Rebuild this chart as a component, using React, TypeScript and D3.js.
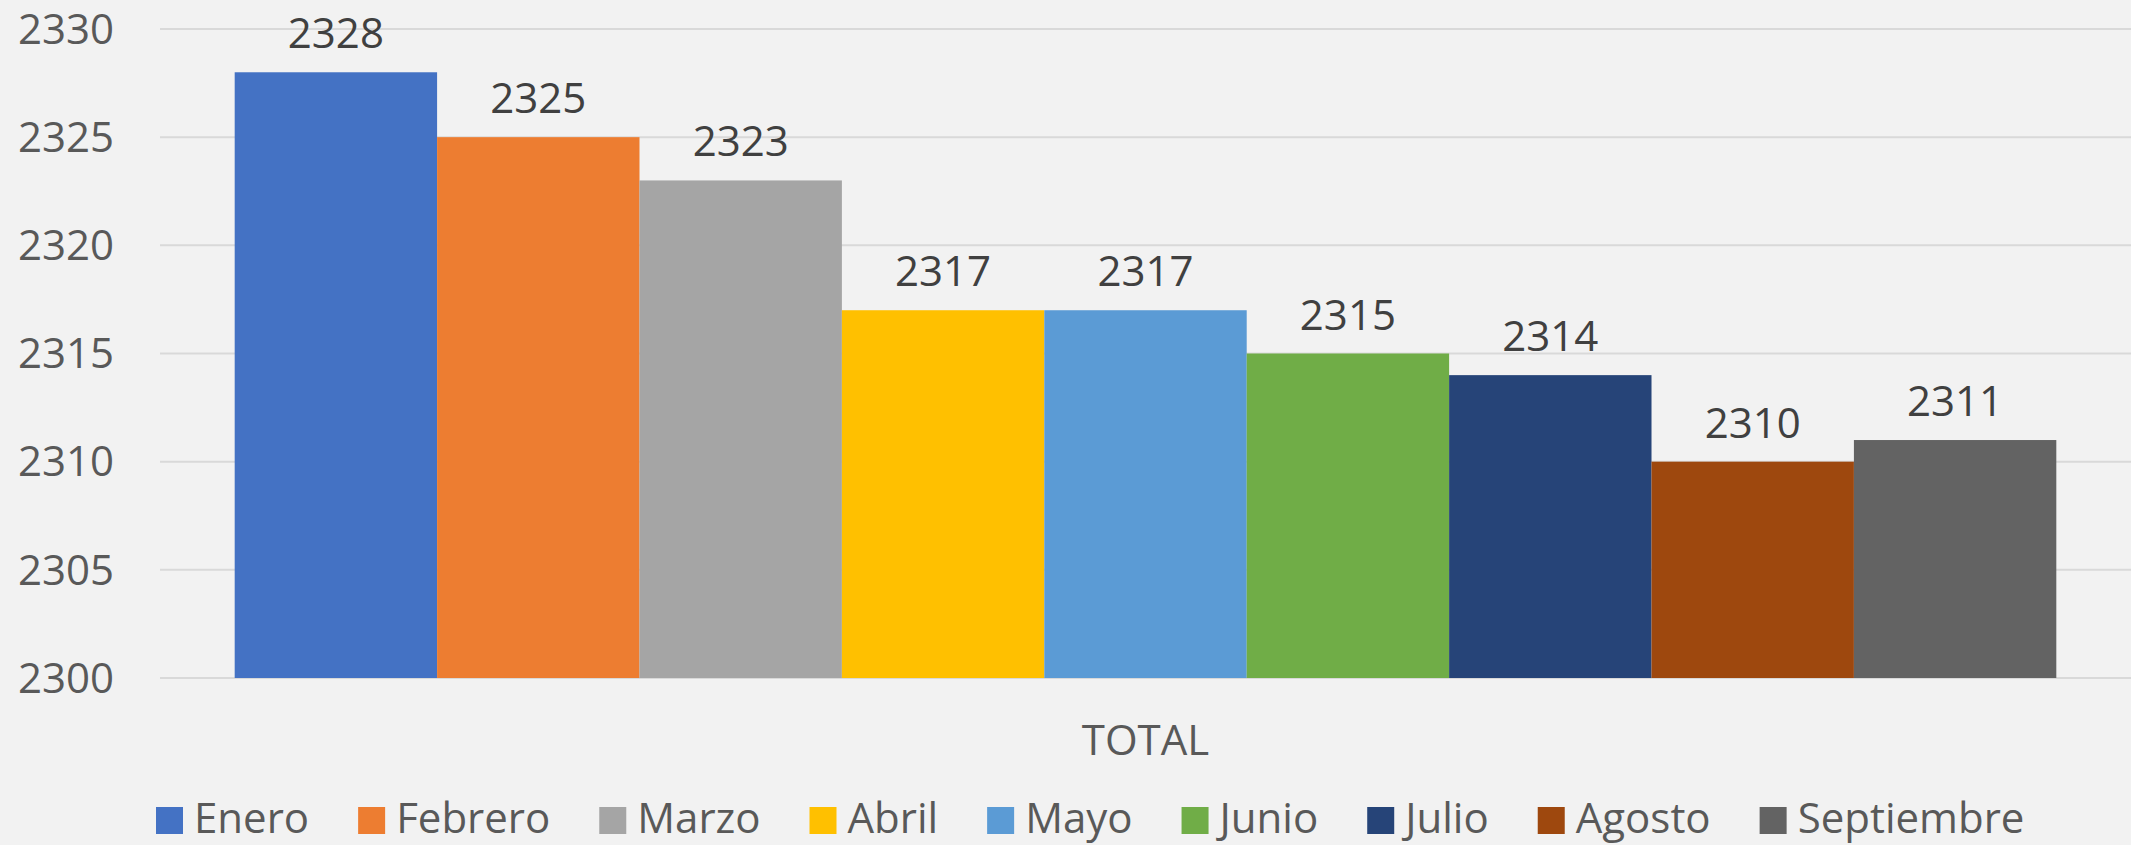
import { useEffect, useRef } from "react";
import * as d3 from "d3";

const categories = ["TOTAL"];
const months = ["Enero", "Febrero", "Marzo", "Abril", "Mayo", "Junio", "Julio", "Agosto", "Septiembre"];
const totals = [2328, 2325, 2323, 2317, 2317, 2315, 2314, 2310, 2311];
const yTicks = [2300, 2305, 2310, 2315, 2320, 2325, 2330];
const colors = ["#4472C4", "#ED7D31", "#A5A5A5", "#FFC000", "#5B9BD5", "#70AD47", "#264478", "#9E480E", "#636363"];

export default function App() {
  const ref = useRef<SVGSVGElement>(null);

  useEffect(() => {
    const width = 2131;
    const height = 845;
    const margin = { top: 29, right: 0, bottom: 167, left: 160 };
    const font = "'Open Sans', 'DejaVu Sans', sans-serif";

    const svg = d3.select(ref.current);
    svg.selectAll("*").remove();
    svg.attr("width", width).attr("height", height);

    svg.append("rect").attr("width", width).attr("height", height).attr("fill", "#F2F2F2");

    const y = d3.scaleLinear().domain([2300, 2330]).range([height - margin.bottom, margin.top]);

    const x0 = d3.scaleBand()
      .domain(categories)
      .range([margin.left, width - margin.right])
      .paddingOuter(0.041);

    const x1 = d3.scaleBand()
      .domain(months)
      .range([0, x0.bandwidth()]);

    // gridlines
    svg.append("g")
      .selectAll("line")
      .data(yTicks)
      .join("line")
      .attr("x1", margin.left)
      .attr("x2", width - margin.right)
      .attr("y1", d => y(d))
      .attr("y2", d => y(d))
      .attr("stroke", "#D9D9D9")
      .attr("stroke-width", 2);

    // y labels
    svg.append("g")
      .selectAll("text")
      .data(yTicks)
      .join("text")
      .attr("x", 114)
      .attr("y", d => y(d))
      .attr("dy", "0.35em")
      .attr("text-anchor", "end")
      .attr("fill", "#595959")
      .style("font-family", font)
      .style("font-size", "42px")
      .text(d => d);

    const group = svg.append("g").attr("transform", `translate(${x0("TOTAL")},0)`);

    group.selectAll("rect")
      .data(totals)
      .join("rect")
      .attr("x", (d, i) => x1(months[i]))
      .attr("y", d => y(d))
      .attr("width", x1.bandwidth())
      .attr("height", d => y(2300) - y(d))
      .attr("fill", (d, i) => colors[i]);

    group.selectAll("text")
      .data(totals)
      .join("text")
      .attr("x", (d, i) => x1(months[i]) + x1.bandwidth() / 2)
      .attr("y", d => y(d) - 24)
      .attr("text-anchor", "middle")
      .attr("fill", "#404040")
      .style("font-family", font)
      .style("font-size", "42px")
      .text(d => d);

    // category label
    svg.append("text")
      .attr("x", x0("TOTAL") + x0.bandwidth() / 2)
      .attr("y", 755)
      .attr("text-anchor", "middle")
      .attr("fill", "#595959")
      .style("font-family", font)
      .style("font-size", "42px")
      .text(categories[0]);

    // legend
    const legend = svg.append("g");
    let lx = 156;
    months.forEach((m, i) => {
      legend.append("rect")
        .attr("x", lx)
        .attr("y", 807)
        .attr("width", 27)
        .attr("height", 27)
        .attr("fill", colors[i]);
      const t = legend.append("text")
        .attr("x", lx + 38)
        .attr("y", 833)
        .attr("fill", "#595959")
        .style("font-family", font)
        .style("font-size", "42px")
        .text(m);
      const w = (t.node() as SVGTextElement).getComputedTextLength();
      lx += 38 + w + 49;
    });
  }, []);

  return (
    <div style={{ position: "absolute", left: 0, top: 0 }}>
      <svg ref={ref}></svg>
    </div>
  );
}
